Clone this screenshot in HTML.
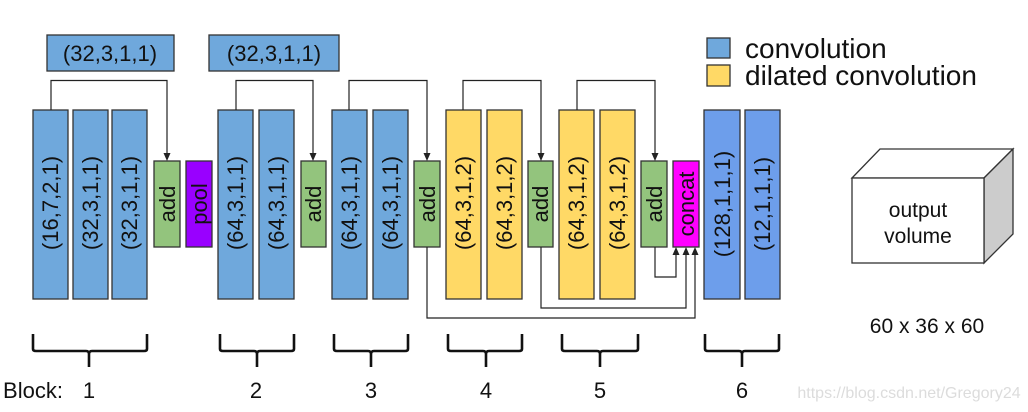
<!DOCTYPE html>
<html><head><meta charset="utf-8"><style>
html,body{margin:0;padding:0;background:#fff;}
svg{display:block;font-family:"Liberation Sans",Arial,sans-serif;}
</style></head><body>
<svg width="1028" height="412" viewBox="0 0 1028 412" xmlns="http://www.w3.org/2000/svg">
<g stroke="#333" stroke-width="1.3">
<rect x="47" y="35" width="127" height="36" fill="#6fa8dc"/>
<rect x="209" y="35" width="130" height="36" fill="#6fa8dc"/>
<rect x="33" y="110" width="35" height="189" fill="#6fa8dc"/>
<rect x="73" y="110" width="35" height="189" fill="#6fa8dc"/>
<rect x="112" y="110" width="35" height="189" fill="#6fa8dc"/>
<rect x="218" y="110" width="35" height="189" fill="#6fa8dc"/>
<rect x="259" y="110" width="35" height="189" fill="#6fa8dc"/>
<rect x="332" y="110" width="35" height="189" fill="#6fa8dc"/>
<rect x="373" y="110" width="35" height="189" fill="#6fa8dc"/>
<rect x="446" y="110" width="35" height="189" fill="#ffd966"/>
<rect x="487" y="110" width="35" height="189" fill="#ffd966"/>
<rect x="559" y="110" width="35" height="189" fill="#ffd966"/>
<rect x="600" y="110" width="35" height="189" fill="#ffd966"/>
<rect x="704" y="110" width="36" height="189" fill="#6d9eeb"/>
<rect x="745" y="110" width="35" height="189" fill="#6d9eeb"/>
<rect x="154" y="161" width="26" height="86" fill="#93c47d"/>
<rect x="186" y="161" width="26" height="86" fill="#9900ff"/>
<rect x="301" y="161" width="25" height="86" fill="#93c47d"/>
<rect x="414" y="161" width="26" height="86" fill="#93c47d"/>
<rect x="528" y="161" width="25" height="86" fill="#93c47d"/>
<rect x="641" y="161" width="26" height="86" fill="#93c47d"/>
<rect x="673" y="161" width="26" height="86" fill="#ff00ff"/>
<rect x="707" y="38" width="23" height="20" fill="#6fa8dc"/>
<rect x="707" y="65" width="23" height="21" fill="#ffd966"/>
</g>
<g fill="none" stroke="#222" stroke-width="1.2">
<path d="M51,110 V80.5 H167 V154"/>
<path d="M236,110 V80.5 H313 V154"/>
<path d="M349,110 V80.5 H427 V154"/>
<path d="M463,110 V80.5 H541 V154"/>
<path d="M577,110 V80.5 H655 V154"/>
<path d="M655,247 V277 H676 V254"/>
<path d="M541,247 V308 H686 V254"/>
<path d="M427,247 V318 H695 V254"/>
</g>
<g fill="#222">
<path d="M163.5,153 L170.5,153 L167,161 z"/>
<path d="M309.5,153 L316.5,153 L313,161 z"/>
<path d="M423.5,153 L430.5,153 L427,161 z"/>
<path d="M537.5,153 L544.5,153 L541,161 z"/>
<path d="M651.5,153 L658.5,153 L655,161 z"/>
<path d="M672.5,255 L679.5,255 L676,247 z"/>
<path d="M682.5,255 L689.5,255 L686,247 z"/>
<path d="M691.5,255 L698.5,255 L695,247 z"/>
</g>
<g font-size="22" fill="#111" text-anchor="middle">
<text x="110" y="61">(32,3,1,1)</text>
<text x="274" y="61">(32,3,1,1)</text>
</g>
<g font-size="22" fill="#111" text-anchor="middle">
<text transform="translate(58,203) rotate(-90)">(16,7,2,1)</text>
<text transform="translate(98,203) rotate(-90)">(32,3,1,1)</text>
<text transform="translate(137,203) rotate(-90)">(32,3,1,1)</text>
<text transform="translate(175,204) rotate(-90)">add</text>
<text transform="translate(207,204) rotate(-90)">pool</text>
<text transform="translate(243,203) rotate(-90)">(64,3,1,1)</text>
<text transform="translate(284,203) rotate(-90)">(64,3,1,1)</text>
<text transform="translate(321,204) rotate(-90)">add</text>
<text transform="translate(357,203) rotate(-90)">(64,3,1,1)</text>
<text transform="translate(398,203) rotate(-90)">(64,3,1,1)</text>
<text transform="translate(435,204) rotate(-90)">add</text>
<text transform="translate(471,203) rotate(-90)">(64,3,1,2)</text>
<text transform="translate(512,203) rotate(-90)">(64,3,1,2)</text>
<text transform="translate(548,204) rotate(-90)">add</text>
<text transform="translate(584,203) rotate(-90)">(64,3,1,2)</text>
<text transform="translate(625,203) rotate(-90)">(64,3,1,2)</text>
<text transform="translate(662,204) rotate(-90)">add</text>
<text transform="translate(694,204) rotate(-90)">concat</text>
<text transform="translate(730,204) rotate(-90)">(128,1,1,1)</text>
<text transform="translate(770,204) rotate(-90)">(12,1,1,1)</text>
</g>
<g font-size="28" fill="#111">
<text x="745" y="58">convolution</text>
<text x="745" y="85">dilated convolution</text>
</g>
<g stroke="#333" stroke-width="1.3">
<path d="M852,178 L880,149 L1013,149 L984,178 z" fill="#fff"/>
<path d="M984,178 L1013,149 L1013,234 L984,263 z" fill="#cccccc"/>
<rect x="852" y="178" width="132" height="85" fill="#fff"/>
</g>
<g font-size="21" fill="#111" text-anchor="middle">
<text x="918" y="217">output</text>
<text x="918" y="243">volume</text>
<text x="927" y="333">60 x 36 x 60</text>
</g>
<g fill="none" stroke="#111" stroke-width="2.6">
<path d="M33,334 V349 Q33,351 36,351 H86 Q89,351 89,354 V367 M89,354 Q89,351 92,351 H144 Q147,351 147,349 V334"/>
<path d="M220,334 V349 Q220,351 223,351 H254 Q257,351 257,354 V367 M257,354 Q257,351 260,351 H291 Q294,351 294,349 V334"/>
<path d="M334,334 V349 Q334,351 337,351 H368 Q371,351 371,354 V367 M371,354 Q371,351 374,351 H405 Q408,351 408,349 V334"/>
<path d="M448,334 V349 Q448,351 451,351 H483 Q486,351 486,354 V367 M486,354 Q486,351 489,351 H519 Q522,351 522,349 V334"/>
<path d="M562,334 V349 Q562,351 565,351 H597 Q600,351 600,354 V367 M600,354 Q600,351 603,351 H635 Q638,351 638,349 V334"/>
<path d="M705,334 V349 Q705,351 708,351 H739 Q742,351 742,354 V367 M742,354 Q742,351 745,351 H776 Q779,351 779,349 V334"/>
</g>
<g font-size="22" fill="#111" text-anchor="middle">
<text x="33" y="398">Block:</text>
<text x="89" y="398">1</text>
<text x="256" y="398">2</text>
<text x="371" y="398">3</text>
<text x="486" y="398">4</text>
<text x="600" y="398">5</text>
<text x="742" y="398">6</text>
</g>
<text x="909" y="398" font-size="16" fill="#dcdcdc" text-anchor="middle">https://blog.csdn.net/Gregory24</text>
</svg>
</body></html>
